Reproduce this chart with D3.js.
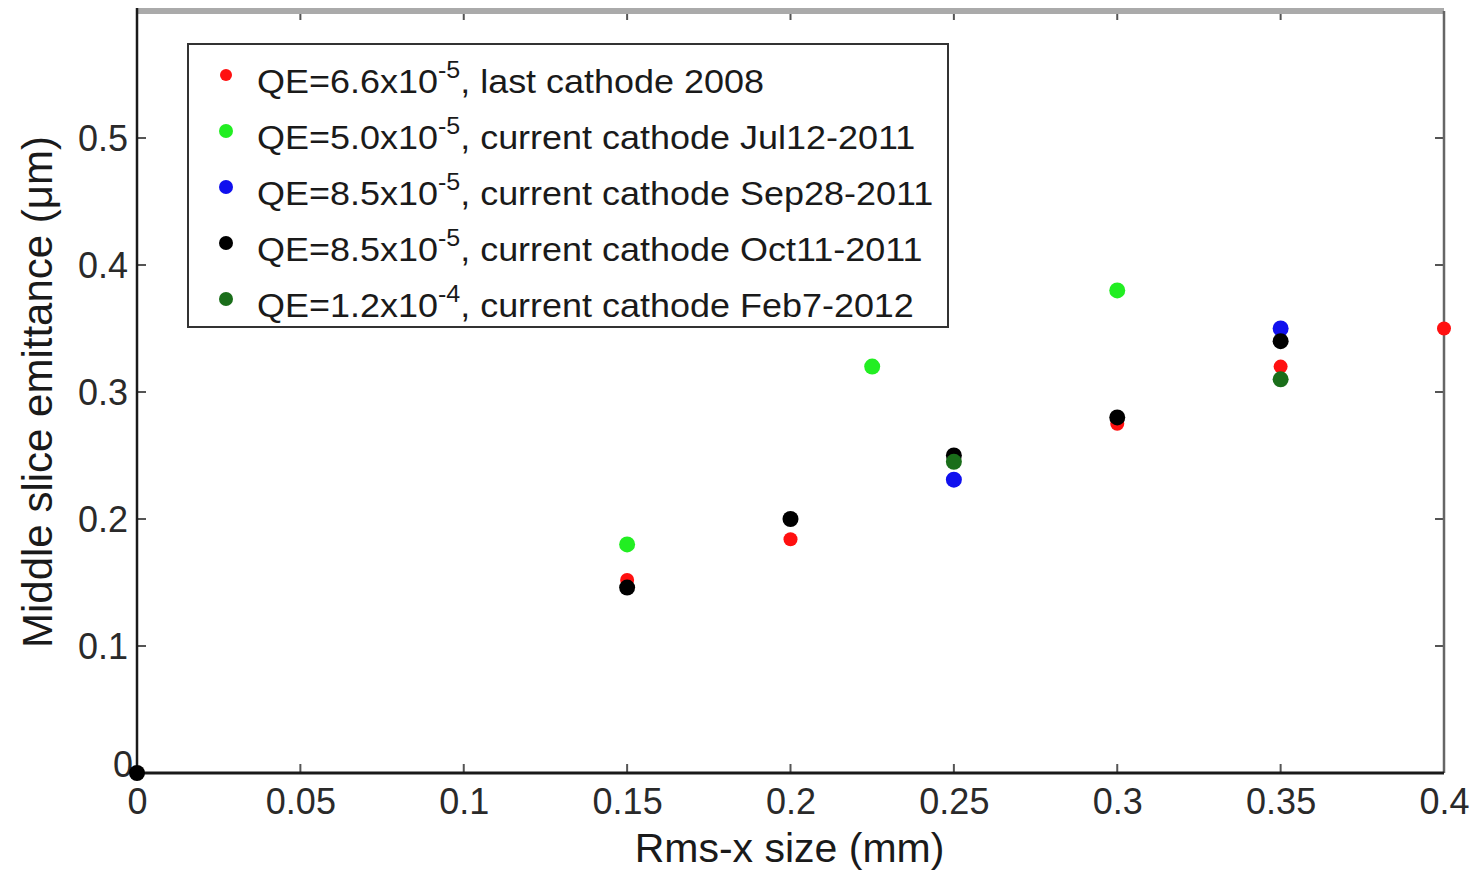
<!DOCTYPE html>
<html>
<head>
<meta charset="utf-8">
<script src="https://cdn.jsdelivr.net/npm/d3@7"></script>
<style>
  body { margin: 0; background: #fff; }
  svg text { font-family: "Liberation Sans", Arial, sans-serif; }
</style>
</head>
<body>
<div id="chart"></div>
<script>
"use strict";

// series, in legend order (later ones drawn on top)
const seriesNames = [
    { qe: "6.6", exp: "-5", rest: ", last cathode 2008" },
    { qe: "5.0", exp: "-5", rest: ", current cathode Jul12-2011" },
    { qe: "8.5", exp: "-5", rest: ", current cathode Sep28-2011" },
    { qe: "8.5", exp: "-5", rest: ", current cathode Oct11-2011" },
    { qe: "1.2", exp: "-4", rest: ", current cathode Feb7-2012" }
];
const seriesColors = ["#ff1010", "#22ee22", "#1010ee", "#000000", "#1a6e1a"];

const red2008   = [[0.15, 0.152], [0.2, 0.184], [0.3, 0.275], [0.35, 0.32], [0.4, 0.35]];
const green2011 = [[0.15, 0.18], [0.225, 0.32], [0.3, 0.38]];
const blue2011  = [[0.25, 0.231], [0.35, 0.35]];
const black2011 = [[0, 0], [0.15, 0.146], [0.2, 0.2], [0.25, 0.25], [0.3, 0.28], [0.35, 0.34]];
const dkgr2012  = [[0.25, 0.245], [0.35, 0.31]];
const allSeries = [red2008, green2011, blue2011, black2011, dkgr2012];

const xTicks = [0, 0.05, 0.1, 0.15, 0.2, 0.25, 0.3, 0.35, 0.4];
const yTicks = [0, 0.1, 0.2, 0.3, 0.4, 0.5];

const margin = { top: 11, right: 31, bottom: 101, left: 137 };
const W = 1475, H = 874;
const width = W - margin.left - margin.right;
const height = H - margin.top - margin.bottom;

const x = d3.scaleLinear().domain([0, 0.4]).range([0, width]);
const y = d3.scaleLinear().domain([0, 0.6]).range([height, 0]);

const svg = d3.select("#chart").append("svg")
              .attr("width", W)
              .attr("height", H);
const g = svg.append("g")
             .attr("transform", `translate(${margin.left},${margin.top})`);

// ticks (inward, all four sides)
const tickLen = 9;
const axisB = d3.axisBottom(x).tickValues(xTicks).tickSize(0)
                .tickFormat(d => d3.format("~g")(d));
const axisL = d3.axisLeft(y).tickValues(yTicks).tickSize(0)
                .tickFormat(d => d3.format("~g")(d));

const gx = g.append("g").attr("transform", `translate(0,${height})`).call(axisB);
const gy = g.append("g").call(axisL);
[gx, gy].forEach(a => {
    a.select(".domain").remove();
    a.selectAll("text")
     .attr("fill", "#2a2a2a")
     .style("font-size", "36px");
});
gx.selectAll("text").attr("dy", "1.05em");
gy.selectAll("text").attr("dx", "-6px").attr("dy", "0.36em");
gy.selectAll(".tick").filter(d => d === 0).select("text").attr("dx", "-1px").attr("dy", "0.1em");

const tickG = g.append("g").attr("stroke", "#555").attr("stroke-width", 2);
xTicks.forEach(v => {
    tickG.append("line").attr("x1", x(v)).attr("x2", x(v))
         .attr("y1", height).attr("y2", height - tickLen);
    tickG.append("line").attr("x1", x(v)).attr("x2", x(v))
         .attr("y1", 0).attr("y2", tickLen);
});
yTicks.forEach(v => {
    tickG.append("line").attr("x1", 0).attr("x2", tickLen)
         .attr("y1", y(v)).attr("y2", y(v));
    tickG.append("line").attr("x1", width).attr("x2", width - tickLen)
         .attr("y1", y(v)).attr("y2", y(v));
});

// frame
g.append("line").attr("x1", 0).attr("x2", width).attr("y1", 0).attr("y2", 0)
 .attr("stroke", "#aaa").attr("stroke-width", 6);
g.append("line").attr("x1", width).attr("x2", width).attr("y1", 0).attr("y2", height)
 .attr("stroke", "#666").attr("stroke-width", 2.5);
g.append("line").attr("x1", 0).attr("x2", 0).attr("y1", -3).attr("y2", height)
 .attr("stroke", "#1a1a1a").attr("stroke-width", 2.5);
g.append("line").attr("x1", 0).attr("x2", width).attr("y1", height).attr("y2", height)
 .attr("stroke", "#1a1a1a").attr("stroke-width", 3);

// points
allSeries.forEach((data, i) => {
    g.append("g").selectAll("circle")
     .data(data)
     .join("circle")
     .attr("cx", d => x(d[0]))
     .attr("cy", d => y(d[1]))
     .attr("r", i === 0 ? 7 : 8)
     .attr("fill", seriesColors[i]);
});

// axis titles
svg.append("text")
   .attr("x", margin.left + x(0.2) - 1)
   .attr("y", 862)
   .attr("text-anchor", "middle")
   .attr("fill", "#1a1a1a")
   .style("font-size", "41px")
   .text("Rms-x size (mm)");
svg.append("text")
   .attr("transform", "translate(52,392) rotate(-90)")
   .attr("text-anchor", "middle")
   .attr("fill", "#1a1a1a")
   .style("font-size", "42px")
   .text("Middle slice emittance (\u03bcm)");

// legend
const leg = svg.append("g");
leg.append("rect")
   .attr("x", 188).attr("y", 44)
   .attr("width", 760).attr("height", 283)
   .attr("fill", "#fff")
   .attr("stroke", "#333").attr("stroke-width", 2);
seriesNames.forEach((s, i) => {
    const cy = 75 + i * 56;
    leg.append("circle")
       .attr("cx", 226).attr("cy", cy)
       .attr("r", i === 0 ? 6 : 7)
       .attr("fill", seriesColors[i]);
    const t = leg.append("text")
                 .attr("transform", `translate(257,${cy + 18}) scale(1.09,1)`)
                 .attr("fill", "#1a1a1a")
                 .style("font-size", "33px");
    t.append("tspan").text(`QE=${s.qe}x10`);
    t.append("tspan").attr("dy", -15).style("font-size", "23px").text(s.exp);
    t.append("tspan").attr("dy", 15).text(s.rest);
});
</script>
</body>
</html>
